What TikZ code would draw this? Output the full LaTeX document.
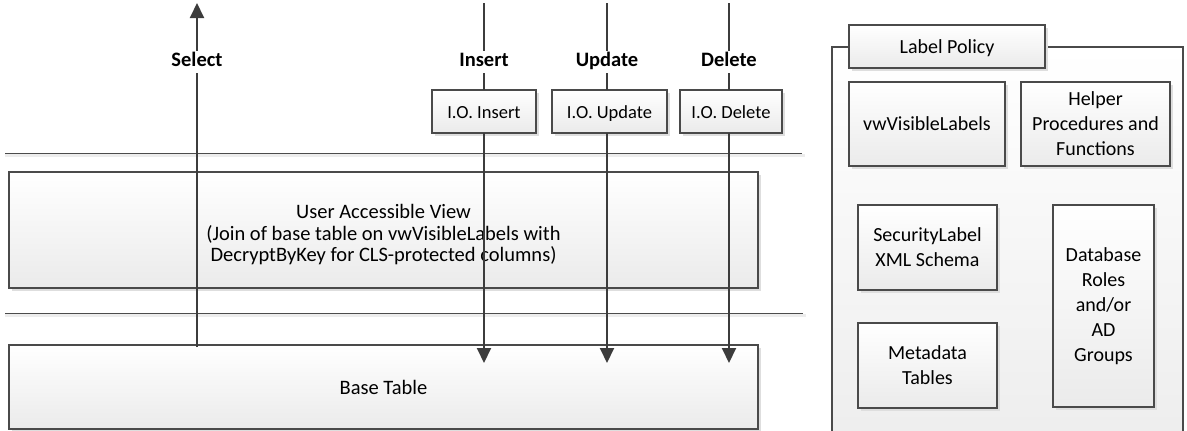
\documentclass[tikz,border=0pt]{standalone}
\usepackage{fontspec}
\setmainfont{Carlito}
\usetikzlibrary{arrows.meta,shadows}
\definecolor{edge}{HTML}{4A4A4A}
\definecolor{flowgray}{HTML}{3C3C3C}
\begin{document}
\begin{tikzpicture}[x=1pt,y=-1pt,
  block/.style={draw=edge, line width=1.1pt, top color=white, bottom color=black!8,
    drop shadow={shadow xshift=3pt, shadow yshift=-3pt, fill=black!13, opacity=1},
    inner sep=2pt, outer sep=0pt, anchor=north west, align=center,
    font=\fontsize{20}{25}\selectfont},
  trigger/.style={block, minimum height=43pt, text height=17.5pt, text depth=3pt,
    font=\fontsize{18.5}{22}\selectfont},
  opname/.style={fill=white, inner sep=2pt, text height=14pt, text depth=4.5pt,
    font=\fontsize{20.5}{24}\selectfont\bfseries},
  flowline/.style={draw=flowgray, line width=2pt},
  flowtip/.style={flowline, -{Triangle[width=14pt,length=15pt]}},
  sepline/.style={draw=black!70, line width=1pt},
  sepshade/.style={draw=black!7, line width=2.5pt}
]
\useasboundingbox (0,0) rectangle (1187,431);

% separators between the layers
\coordinate (sepAl) at (5,153);   \coordinate (sepAr) at (802,153);
\coordinate (sepBl) at (5,313);   \coordinate (sepBr) at (803,313);
\draw[sepshade] ([yshift=-2.5pt]sepAl) -- ([xshift=3pt,yshift=-2.5pt]sepAr);
\draw[sepshade] ([yshift=-2.5pt]sepBl) -- ([xshift=3pt,yshift=-2.5pt]sepBr);
\draw[sepline] (sepAl) -- (sepAr);
\draw[sepline] (sepBl) -- (sepBr);

% view and table layers
\node[block, minimum width=749pt, minimum height=116pt,
      font=\fontsize{20.5}{21.5}\selectfont] (view) at (9,172)
  {\rule{0pt}{24pt}User Accessible View\\(Join of base table on vwVisibleLabels with\\DecryptByKey for CLS-protected columns)};
\node[block, minimum width=749pt, minimum height=84pt,
      font=\fontsize{20.5}{21.5}\selectfont] (base) at (9,345) {Base Table};

% instead-of triggers
\node[trigger, minimum width=104pt] (ioIns) at (432,90) {I.O. Insert};
\node[trigger, minimum width=115pt] (ioUpd) at (552,90) {I.O. Update};
\node[trigger, minimum width=102pt] (ioDel) at (680,90) {I.O. Delete};

% operation labels
\node[opname] (selLbl) at (197,62) {Select};
\node[opname] (insLbl) at (484,62) {Insert};
\node[opname] (updLbl) at (607,62) {Update};
\node[opname] (delLbl) at (729,62) {Delete};

\coordinate (selTop) at (197,3);  \coordinate (selBot) at (197,347);
\coordinate (insTop) at (484,3);  \coordinate (insEnd) at (484,363);
\coordinate (updTop) at (607,3);  \coordinate (updEnd) at (607,363);
\coordinate (delTop) at (729,3);  \coordinate (delEnd) at (729,363);

% select flows up out of the base table
\draw[flowline] (selBot) -- (selLbl);
\draw[flowtip] (selLbl) -- (selTop);

% modifications flow down through the triggers
\draw[flowline] (insTop) -- (insLbl);
\draw[flowline] (insLbl) -- (insLbl |- ioIns.north);
\draw[flowtip] (insLbl |- ioIns.south) -- (insEnd);
\draw[flowline] (updTop) -- (updLbl);
\draw[flowline] (updLbl) -- (updLbl |- ioUpd.north);
\draw[flowtip] (updLbl |- ioUpd.south) -- (updEnd);
\draw[flowline] (delTop) -- (delLbl);
\draw[flowline] (delLbl) -- (delLbl |- ioDel.north);
\draw[flowtip] (delLbl |- ioDel.south) -- (delEnd);

% label policy package
\node[draw=edge, line width=1.1pt, top color=white, bottom color=black!7,
      inner sep=0pt, outer sep=0pt, anchor=north west,
      minimum width=351pt, minimum height=400pt] (policy) at (832,47) {};
\node[block, minimum width=196pt, minimum height=43pt,
      text height=17.5pt, text depth=3pt] (tab) at (849,25) {Label Policy};
\node[block, minimum width=156pt, minimum height=84pt] (vis) at (849,82) {vwVisibleLabels};
\node[block, minimum width=149pt, minimum height=84pt] (helper) at (1021,82)
  {Helper\\Procedures and\\Functions};
\node[block, minimum width=139pt, minimum height=85pt] (schema) at (858,205)
  {SecurityLabel\\XML Schema};
\node[block, minimum width=139pt, minimum height=85pt] (meta) at (858,323)
  {Metadata\\Tables};
\node[block, minimum width=101pt, minimum height=202pt] (roles) at (1053,205)
  {Database\\Roles\\and/or\\AD\\Groups};
\end{tikzpicture}
\end{document}
